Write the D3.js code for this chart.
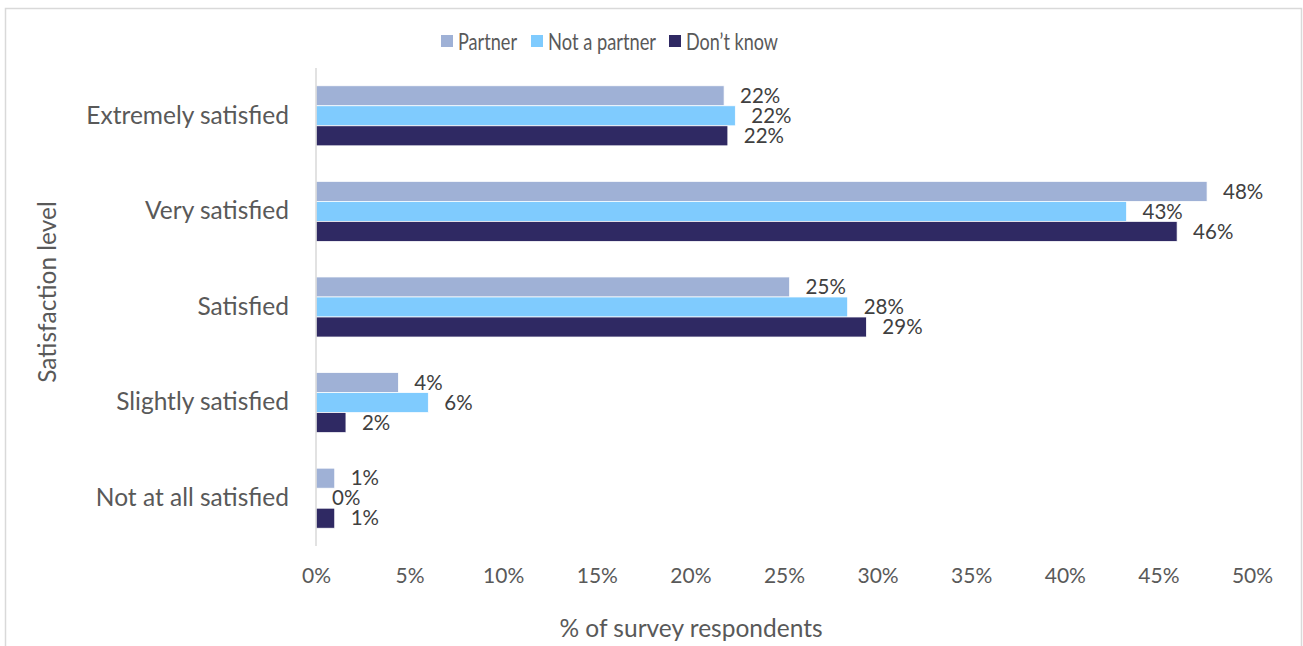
<!DOCTYPE html>
<html>
<head>
<meta charset="utf-8">
<script src="https://cdn.jsdelivr.net/npm/d3@7"></script>
<style>
  html, body { margin: 0; padding: 0; background: #fff; }
  svg { display: block; font-family: Lato, "Open Sans", sans-serif; }
</style>
</head>
<body>
<svg id="chart" width="1303" height="646"></svg>
<script>
// Satisfaction levels, top to bottom
const categories = ["Extremely satisfied", "Very satisfied", "Satisfied", "Slightly satisfied", "Not at all satisfied"];
const seriesNames = ["Partner", "Not a partner", "Don\u2019t know"];
const seriesColors = ["#9FB1D6", "#7FCBFE", "#2F2963"];

// Share of respondents per level (fractions)
const partner    = [0.218, 0.476, 0.253, 0.044, 0.010];
const notPartner = [0.224, 0.433, 0.284, 0.060, 0.000];
const dontKnow   = [0.220, 0.460, 0.294, 0.016, 0.010];

const xTicks = [0, 0.05, 0.10, 0.15, 0.20, 0.25, 0.30, 0.35, 0.40, 0.45, 0.50];

const seriesValues = [partner, notPartner, dontKnow];
const rows = categories.map((c, i) => ({
  category: c,
  values: seriesNames.map((s, j) => ({ series: s, idx: j, value: seriesValues[j][i] }))
}));

const svg = d3.select("#chart");
const plot = { left: 316, right: 1252, top: 68, bottom: 546 };

// outer frame
svg.append("rect")
  .attr("x", 5.5).attr("y", 8.5)
  .attr("width", 1296).attr("height", 660)
  .attr("fill", "none").attr("stroke", "#d9d9d9").attr("stroke-width", 1.5);

const x = d3.scaleLinear().domain([0, 0.5]).range([plot.left, plot.right]);
const y = d3.scaleBand().domain(categories).range([plot.top, plot.bottom])
  .paddingInner(0.372).paddingOuter(0.186);
const ySub = d3.scaleBand().domain(seriesNames).range([0, y.bandwidth()]);

const textColor = "#595959";
const pct = d3.format(".0%");

// x axis tick labels (no line, no ticks)
const xAxis = d3.axisBottom(x).tickValues(xTicks).tickFormat(pct).tickSize(0).tickPadding(0);
const gx = svg.append("g").attr("transform", `translate(0,${plot.bottom + 22})`).call(xAxis);
gx.select(".domain").remove();
gx.selectAll("text")
  .attr("font-size", 21).attr("fill", textColor)
  .attr("font-family", "Lato, 'Open Sans', sans-serif");

// y axis category labels
const yAxis = d3.axisLeft(y).tickSize(0).tickPadding(27);
const gy = svg.append("g").attr("transform", `translate(${plot.left},0)`).call(yAxis);
gy.select(".domain").remove();
gy.selectAll("text")
  .attr("font-size", 24.5).attr("fill", textColor)
  .attr("font-family", "Lato, 'Open Sans', sans-serif");

// bars
const groups = svg.append("g").selectAll("g")
  .data(rows).join("g")
  .attr("transform", d => `translate(0,${y(d.category)})`);

groups.selectAll("rect")
  .data(d => d.values).join("rect")
  .attr("x", x(0))
  .attr("y", d => ySub(d.series))
  .attr("width", d => x(d.value) - x(0))
  .attr("height", ySub.bandwidth())
  .attr("fill", d => seriesColors[d.idx])
  .attr("stroke", "#ffffff").attr("stroke-width", 0.75);

// value labels
groups.selectAll("text")
  .data(d => d.values).join("text")
  .attr("x", d => x(d.value) + 16)
  .attr("y", d => ySub(d.series) + ySub.bandwidth() / 2)
  .attr("dy", "0.35em")
  .attr("font-size", 20.5)
  .attr("fill", "#404040")
  .text(d => pct(d.value));

// vertical axis line
svg.append("line")
  .attr("x1", x(0)).attr("x2", x(0))
  .attr("y1", plot.top).attr("y2", plot.bottom)
  .attr("stroke", "#d9d9d9").attr("stroke-width", 1.5);

// axis titles
svg.append("text")
  .attr("x", 691).attr("y", 637)
  .attr("text-anchor", "middle")
  .attr("font-size", 24.5).attr("fill", textColor)
  .text("% of survey respondents");

svg.append("text")
  .attr("transform", `translate(56,292) rotate(-90)`)
  .attr("text-anchor", "middle")
  .attr("font-size", 24.5).attr("fill", textColor)
  .text("Satisfaction level");

// legend
const legendX = [441, 531, 669];
const legend = svg.append("g").selectAll("g")
  .data(seriesNames).join("g")
  .attr("transform", (d, i) => `translate(${legendX[i]},41)`);
legend.append("rect")
  .attr("x", 0).attr("y", -6).attr("width", 12).attr("height", 12)
  .attr("fill", (d, i) => seriesColors[i]);
legend.append("text")
  .attr("x", 17).attr("y", 0).attr("dy", "0.36em")
  .attr("font-size", 24).attr("fill", textColor)
  .attr("textLength", (d, i) => [59, 108, 92][i])
  .attr("lengthAdjust", "spacingAndGlyphs")
  .text(d => d);
</script>
</body>
</html>
